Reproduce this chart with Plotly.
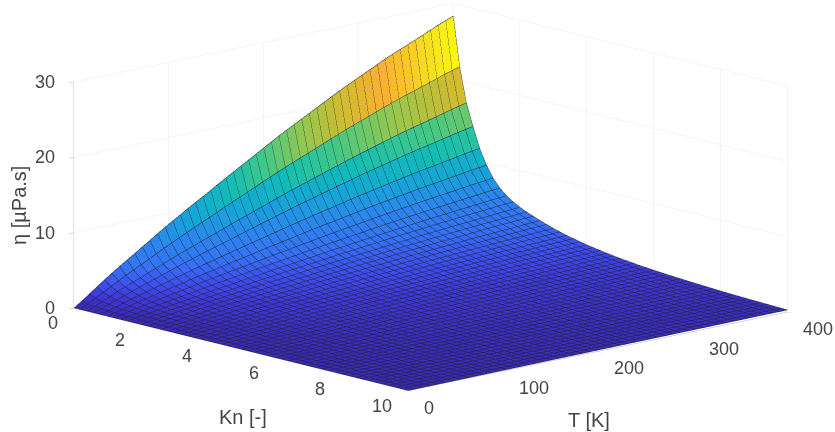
import numpy as np
import plotly.graph_objects as go

# Surface values are read off the picture along its two visible edges; the table
# is rebuilt from them on the assumption that the two dependences are separable.
kn_values = [0.01, 0.2, 0.4, 0.6, 0.8, 1.0, 1.2, 1.4, 1.6, 1.8, 2.0, 2.2, 2.4, 2.6, 2.8, 3.0, 3.2, 3.4, 3.6, 3.8,
             4.0, 4.2, 4.4, 4.6, 4.8, 5.0, 5.2, 5.4, 5.6, 5.8, 6.0, 6.2, 6.4, 6.6, 6.8, 7.0, 7.2, 7.4, 7.6, 7.8,
             8.0, 8.2, 8.4, 8.6, 8.8, 9.0, 9.2, 9.4, 9.6, 9.8, 10.0]
t_values = [0, 8, 16, 24, 32, 40, 48, 56, 64, 72, 80, 88, 96, 104, 112, 120, 128, 136, 144, 152, 160, 168, 176, 184, 192,
            200, 208, 216, 224, 232, 240, 248, 256, 264, 272, 280, 288, 296, 304, 312, 320, 328, 336, 344, 352, 360,
            368, 376, 384, 392, 400]
# eta along the T = 400 K edge, one value per Kn
eta_at_t400 = [28.3, 21.8, 17.2, 14.3, 11.6, 9.6, 8.1, 7.0, 6.2, 5.6, 5.1, 4.7, 4.35, 4.0, 3.7, 3.4, 3.15, 2.9, 2.7, 2.5,
               2.3, 2.15, 2.0, 1.85, 1.72, 1.6, 1.5, 1.4, 1.3, 1.22, 1.14, 1.07, 1.0, 0.94, 0.88, 0.82, 0.77, 0.72,
               0.67, 0.62, 0.57, 0.53, 0.49, 0.45, 0.42, 0.39, 0.36, 0.33, 0.3, 0.27, 0.25]
# eta along the smallest-Kn edge, one value per T
eta_at_kn_min = [0, 0.7, 1.45, 2.2, 2.95, 3.65, 4.35, 5.0, 5.65, 6.35, 7.0, 7.7, 8.35, 9.0, 9.6, 10.25, 10.85, 11.45,
                 12.05, 12.7, 13.3, 13.9, 14.5, 15.1, 15.7, 16.3, 16.9, 17.5, 18.05, 18.6, 19.15, 19.7, 20.25, 20.8,
                 21.35, 21.9, 22.4, 22.9, 23.4, 23.9, 24.4, 24.9, 25.35, 25.8, 26.2, 26.65, 27.1, 27.55, 28.0, 28.4, 28.8]
kn_ticks = [0, 2, 4, 6, 8, 10]
t_ticks = [0, 100, 200, 300, 400]
eta_ticks = [0, 10, 20, 30]

parula = [[0.0, "#3a2ab4"], [0.03, "#3f34d0"], [0.07, "#3f48ea"], [0.14, "#3670f6"], [0.25, "#2a88ec"], [0.35, "#15a5d8"],
          [0.45, "#10bcb8"], [0.55, "#40c888"], [0.65, "#90c850"], [0.75, "#cfbc30"], [0.85, "#fbb030"],
          [0.93, "#f8d820"], [1.0, "#f9fb0e"]]

kn = np.array(kn_values)
t = np.array(t_values)
z = np.outer(eta_at_t400, eta_at_kn_min) / eta_at_kn_min[-1]
nk, nt = z.shape
X, Y = np.meshgrid(kn, t, indexing="ij")
ids = np.arange(nk * nt).reshape(nk, nt)
a, b, c, d = ids[:-1, :-1].ravel(), ids[1:, :-1].ravel(), ids[1:, 1:].ravel(), ids[:-1, 1:].ravel()
cell = z[:-1, :-1].ravel()

surf = go.Mesh3d(x=X.ravel(), y=Y.ravel(), z=z.ravel(),
                 i=np.r_[a, a], j=np.r_[b, c], k=np.r_[c, d],
                 intensity=np.r_[cell, cell], intensitymode="cell",
                 colorscale=parula, cmin=0, cmax=float(z.max()), showscale=False, flatshading=True,
                 lighting=dict(ambient=1, diffuse=0, specular=0, roughness=1, fresnel=0), hoverinfo="skip")

lx, ly, lz = [], [], []
for i in range(nk):
    lx += list(X[i, :]) + [None]; ly += list(Y[i, :]) + [None]; lz += list(z[i, :] + 0.03) + [None]
for j in range(nt):
    lx += list(X[:, j]) + [None]; ly += list(Y[:, j]) + [None]; lz += list(z[:, j] + 0.03) + [None]
mesh = go.Scatter3d(x=lx, y=ly, z=lz, mode="lines", line=dict(color="#1c2436", width=1), hoverinfo="skip",
                    showlegend=False)

TICK_FONT = dict(family="Liberation Sans, Arial, sans-serif", size=18, color="#444444")
TITLE_FONT = dict(family="Liberation Sans, Arial, sans-serif", size=20, color="#444444")
def axis(ticks, rng):
    return dict(title=dict(text=""), tickvals=ticks, range=rng, showticklabels=False,
                showgrid=True, gridcolor="#eaeaea", gridwidth=1, showline=True, linecolor="#b0b0b0", linewidth=1,
                ticks="outside", ticklen=6, tickcolor="#b0b0b0", zeroline=False, showbackground=False,
                showspikes=False, autorange=False)

def label(text, x, y, zv, dx, dy, anchor="center", font=TICK_FONT, angle=0):
    return dict(text=text, x=x, y=y, z=zv, xshift=dx, yshift=dy, showarrow=False, font=font,
                textangle=angle, xanchor=anchor, yanchor="middle")

notes = [label(str(v), v, 0, 0, -14, -15, "right") for v in kn_ticks]
notes += [label(str(v), 10, v, 0, 14, -17, "left") for v in t_ticks]
notes += [label(str(v), 0, 0, v, -17, 0, "right") for v in eta_ticks]
notes += [label("Kn [-]", 7, 0, 0, -65, -51, font=TITLE_FONT), label("T [K]", 10, 200, 0, -9, -69, font=TITLE_FONT),
          label("η [µPa.s]", 0, 0, 15, -55, -10, font=TITLE_FONT, angle=-90)]

center = dict(x=-0.041, y=-0.045, z=-0.090)
fig = go.Figure([surf, mesh])
fig.update_layout(
    width=835, height=432, margin=dict(l=0, r=0, t=0, b=0), paper_bgcolor="white", showlegend=False,
    scene=dict(
        domain=dict(x=[0, 1], y=[0, 1]),
        xaxis=axis(kn_ticks, [0, 10]),
        yaxis=axis(t_ticks, [0, 400]),
        zaxis=axis(eta_ticks, [0, 30]),
        aspectmode="manual", aspectratio=dict(x=2.292, y=2.381, z=1.074),
        annotations=notes,
        camera=dict(eye=dict(x=2.80 + center["x"], y=-2.567 + center["y"], z=0.883 + center["z"]), center=center,
                    up=dict(x=0, y=0, z=1), projection=dict(type="orthographic")),
    ),
)
fig.write_html("out.html", config=dict(displayModeBar=False),
               post_script="document.body.style.margin='0';document.body.style.overflow='hidden';")
